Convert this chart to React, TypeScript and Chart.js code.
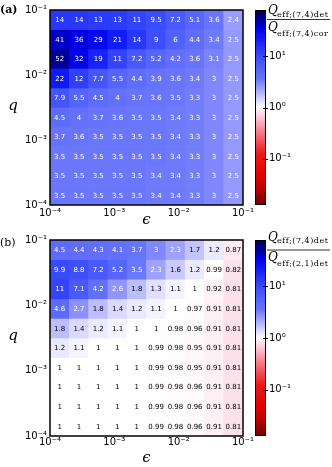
import React, { useEffect, useRef } from "react";
import { Chart, registerables } from "chart.js";

Chart.register(...registerables);

// ---- data (log10 of cell centres; rows listed top -> bottom) ----
const logEps = [-3.85, -3.55, -3.25, -2.95, -2.65, -2.35, -2.05, -1.75, -1.45, -1.15];
const logQ = [-1.15, -1.45, -1.75, -2.05, -2.35, -2.65, -2.95, -3.25, -3.55, -3.85];
const axisTicks = [-4, -3, -2, -1];
const colorbarTicks = [1, 0, -1];

// Q_eff;(7,4)det / Q_eff;(7,4)cor
const ratioDetCor = [
  [14, 14, 13, 13, 11, 9.5, 7.2, 5.1, 3.6, 2.4],
  [41, 36, 29, 21, 14, 9, 6, 4.4, 3.4, 2.5],
  [52, 32, 19, 11, 7.2, 5.2, 4.2, 3.6, 3.1, 2.5],
  [22, 12, 7.7, 5.5, 4.4, 3.9, 3.6, 3.4, 3, 2.5],
  [7.9, 5.5, 4.5, 4, 3.7, 3.6, 3.5, 3.3, 3, 2.5],
  [4.5, 4, 3.7, 3.6, 3.5, 3.5, 3.4, 3.3, 3, 2.5],
  [3.7, 3.6, 3.5, 3.5, 3.5, 3.5, 3.4, 3.3, 3, 2.5],
  [3.5, 3.5, 3.5, 3.5, 3.5, 3.5, 3.4, 3.3, 3, 2.5],
  [3.5, 3.5, 3.5, 3.5, 3.5, 3.4, 3.4, 3.3, 3, 2.5],
  [3.5, 3.5, 3.5, 3.5, 3.5, 3.4, 3.4, 3.3, 3, 2.5],
];

// Q_eff;(7,4)det / Q_eff;(2,1)det
const ratioDet74Det21 = [
  [4.5, 4.4, 4.3, 4.1, 3.7, 3, 2.3, 1.7, 1.2, 0.87],
  [9.9, 8.8, 7.2, 5.2, 3.5, 2.3, 1.6, 1.2, 0.99, 0.82],
  [11, 7.1, 4.2, 2.6, 1.8, 1.3, 1.1, 1, 0.92, 0.81],
  [4.6, 2.7, 1.8, 1.4, 1.2, 1.1, 1, 0.97, 0.91, 0.81],
  [1.8, 1.4, 1.2, 1.1, 1, 1, 0.98, 0.96, 0.91, 0.81],
  [1.2, 1.1, 1, 1, 1, 0.99, 0.98, 0.95, 0.91, 0.81],
  [1, 1, 1, 1, 1, 0.99, 0.98, 0.95, 0.91, 0.81],
  [1, 1, 1, 1, 1, 0.99, 0.98, 0.96, 0.91, 0.81],
  [1, 1, 1, 1, 1, 0.99, 0.98, 0.96, 0.91, 0.81],
  [1, 1, 1, 1, 1, 0.99, 0.98, 0.96, 0.91, 0.81],
];

// ---- colour map (log10 value -> rgb), diverging blue/white/red ----
const CB_MAX = 1.9;
const CB_MIN = -1.9;
const cmapStops: [number, number[]][] = [
  [1.9, [0, 0, 77]],
  [1.72, [0, 0, 150]],
  [1.55, [0, 0, 228]],
  [1.35, [15, 25, 245]],
  [1.15, [40, 55, 250]],
  [0.9, [68, 85, 250]],
  [0.55, [105, 118, 250]],
  [0.4, [148, 152, 252]],
  [0.25, [190, 190, 254]],
  [0, [255, 255, 255]],
  [-0.1, [252, 222, 232]],
  [-0.25, [250, 185, 200]],
  [-0.55, [245, 105, 115]],
  [-0.9, [235, 25, 25]],
  [-1.35, [225, 0, 0]],
  [-1.55, [195, 0, 0]],
  [-1.72, [150, 0, 0]],
  [-1.9, [115, 0, 0]],
];

function colorFor(v: number): string {
  const L = Math.max(CB_MIN, Math.min(CB_MAX, Math.log10(v)));
  for (let i = 0; i < cmapStops.length - 1; i++) {
    const [a, ca] = cmapStops[i];
    const [b, cb] = cmapStops[i + 1];
    if (L <= a && L >= b) {
      const f = (a - L) / (a - b);
      const c = ca.map((x, k) => Math.round(x + (cb[k] - x) * f));
      return `rgb(${c[0]},${c[1]},${c[2]})`;
    }
  }
  return "rgb(255,255,255)";
}

const SUP: Record<string, string> = {
  "-": "\u207B", "0": "\u2070", "1": "\u00B9", "2": "\u00B2", "3": "\u00B3",
  "4": "\u2074", "5": "\u2075", "6": "\u2076", "7": "\u2077", "8": "\u2078", "9": "\u2079",
};
const powLabel = (e: number) => "10" + String(e).split("").map((ch) => SUP[ch] ?? ch).join("");

type PanelCfg = {
  matrix: number[][];
  label: string;
  labelBold: boolean;
  labelY: number;
  denSub: string;
  numQ: number;
  numSub: number;
  lineY: number;
  denQ: number;
  denSubY: number;
  epsY: number;
  height: number;
  plotTop: number;
  plotBottom: number;
  xTickPad: number;
};

function makePlugin(cfg: PanelCfg) {
  return {
    id: "panelDecor",
    afterDatasetsDraw(chart: any) {
      const ctx: CanvasRenderingContext2D = chart.ctx;
      const ca = chart.chartArea;
      ctx.save();
      // cell labels
      ctx.font = '7px "DejaVu Sans"';
      ctx.textAlign = "center";
      ctx.textBaseline = "middle";
      cfg.matrix.forEach((row, r) => {
        const meta = chart.getDatasetMeta(r);
        row.forEach((v, c) => {
          const el: any = meta.data[c];
          if (!el) return;
          const cy = (el.y + el.base) / 2;
          ctx.fillStyle = v > 2 ? "#ffffff" : "#000000";
          ctx.fillText(String(v), el.x, cy + 0.5);
        });
      });
      // frame
      ctx.strokeStyle = "#000";
      ctx.lineWidth = 1.5;
      ctx.strokeRect(ca.left, ca.top, ca.right - ca.left, ca.bottom - ca.top);

      // colorbar
      const cbX = ca.right + 12;
      const cbW = 11;
      const H = ca.bottom - ca.top;
      const grad = ctx.createLinearGradient(0, ca.top, 0, ca.bottom);
      cmapStops.forEach(([L, rgb]) => {
        grad.addColorStop((CB_MAX - L) / (CB_MAX - CB_MIN), `rgb(${rgb[0]},${rgb[1]},${rgb[2]})`);
      });
      ctx.fillStyle = grad;
      ctx.fillRect(cbX, ca.top, cbW, H);
      ctx.lineWidth = 1;
      ctx.strokeStyle = "#000";
      ctx.strokeRect(cbX + 0.5, ca.top + 0.5, cbW - 1, H - 1);
      ctx.font = '10px "DejaVu Sans"';
      ctx.textAlign = "left";
      ctx.textBaseline = "middle";
      ctx.fillStyle = "#000";
      colorbarTicks.forEach((t) => {
        const y = ca.top + ((CB_MAX - t) / (CB_MAX - CB_MIN)) * H;
        ctx.beginPath();
        ctx.moveTo(cbX + cbW - 3, Math.round(y) + 0.5);
        ctx.lineTo(cbX + cbW + 2, Math.round(y) + 0.5);
        ctx.stroke();
        ctx.fillText(powLabel(t), cbX + cbW + 3, y);
      });

      // colorbar title (fraction)
      const tx = ca.right + 25;
      ctx.textBaseline = "alphabetic";
      ctx.font = 'italic 12px "DejaVu Serif"';
      ctx.fillText("Q", tx, ca.top + cfg.numQ);
      ctx.fillText("Q", tx, ca.top + cfg.denQ);
      ctx.font = '8px "DejaVu Serif"';
      (ctx as any).letterSpacing = "0.5px";
      ctx.fillText("eff;(7,4)det", tx + 9, ca.top + cfg.numSub);
      ctx.fillText(cfg.denSub, tx + 9, ca.top + cfg.denSubY);
      (ctx as any).letterSpacing = "0px";
      ctx.lineWidth = 0.8;
      ctx.beginPath();
      ctx.moveTo(tx - 1, ca.top + cfg.lineY);
      ctx.lineTo(tx + 62, ca.top + cfg.lineY);
      ctx.stroke();

      // axis titles
      ctx.font = 'italic 15px "DejaVu Serif"';
      ctx.textAlign = "center";
      ctx.fillText("q", 13, (ca.top + ca.bottom) / 2 + 2);
      ctx.fillText("\u03F5", (ca.left + ca.right) / 2, ca.bottom + cfg.epsY);

      // panel label
      ctx.textAlign = "left";
      ctx.font = (cfg.labelBold ? "bold " : "") + '11px "DejaVu Serif"';
      ctx.fillText(cfg.label, 0, cfg.labelY);
      ctx.restore();
    },
  };
}

function HeatPanel({ cfg }: { cfg: PanelCfg }) {
  const ref = useRef<HTMLCanvasElement>(null);
  useEffect(() => {
    if (!ref.current) return;
    const half = Math.abs(logQ[1] - logQ[0]) / 2;
    const datasets = cfg.matrix.map((row, r) => ({
      data: row.map((v, c) => ({ x: logEps[c], y: [logQ[r] - half, logQ[r] + half] })),
      backgroundColor: row.map((v) => colorFor(v)),
      borderWidth: 0,
      barPercentage: 1,
      categoryPercentage: 1,
      grouped: false,
    }));
    const tickFont = { family: "DejaVu Sans", size: 10 };
    const chart = new Chart(ref.current, {
      type: "bar",
      data: { datasets: datasets as any },
      options: {
        animation: false,
        responsive: false,
        maintainAspectRatio: false,
        events: [],
        layout: { padding: { top: cfg.plotTop, right: 332 - 243, left: 0, bottom: 0 } },
        plugins: { legend: { display: false }, tooltip: { enabled: false }, title: { display: false } },
        scales: {
          x: {
            type: "linear",
            min: axisTicks[0],
            max: axisTicks[axisTicks.length - 1],
            offset: false,
            grid: { display: false, drawTicks: false, offset: false },
            border: { display: false },
            afterBuildTicks: (s: any) => {
              s.ticks = axisTicks.map((v) => ({ value: v }));
            },
            ticks: {
              autoSkip: false,
              maxRotation: 0,
              padding: cfg.xTickPad,
              color: "#000",
              font: tickFont,
              callback: (v: any) => powLabel(Number(v)),
            },
            afterFit: (s: any) => {
              s.height = cfg.height - cfg.plotBottom;
            },
          },
          y: {
            type: "linear",
            min: axisTicks[0],
            max: axisTicks[axisTicks.length - 1],
            beginAtZero: false,
            grid: { display: false, drawTicks: false },
            border: { display: false },
            afterBuildTicks: (s: any) => {
              s.ticks = axisTicks.map((v) => ({ value: v }));
            },
            ticks: {
              autoSkip: false,
              padding: 3,
              color: "#000",
              font: tickFont,
              callback: (v: any) => powLabel(Number(v)),
            },
            afterFit: (s: any) => {
              s.width = 50;
            },
          },
        },
      } as any,
      plugins: [makePlugin(cfg)],
    });
    return () => chart.destroy();
  }, [cfg]);
  return (
    <canvas
      ref={ref}
      width={332}
      height={cfg.height}
      style={{ display: "block", width: 332, height: cfg.height }}
    />
  );
}

const panelA: PanelCfg = {
  matrix: ratioDetCor,
  label: "(a)",
  labelBold: true,
  labelY: 13,
  denSub: "eff;(7,4)cor",
  numQ: 4,
  numSub: 7,
  lineY: 9.5,
  denQ: 21,
  denSubY: 25.5,
  epsY: 19,
  height: 230,
  plotTop: 10,
  plotBottom: 205,
  xTickPad: 2,
};

const panelB: PanelCfg = {
  matrix: ratioDet74Det21,
  label: "(b)",
  labelBold: false,
  labelY: 15.5,
  denSub: "eff;(2,1)det",
  numQ: 1,
  numSub: 3,
  lineY: 10,
  denQ: 21,
  denSubY: 26,
  epsY: 26,
  height: 237,
  plotTop: 10,
  plotBottom: 206,
  xTickPad: 0,
};

export default function App() {
  return (
    <div style={{ position: "fixed", left: 0, top: 0, width: 332, height: 467, background: "#fff" }}>
      <HeatPanel cfg={panelA} />
      <HeatPanel cfg={panelB} />
    </div>
  );
}
